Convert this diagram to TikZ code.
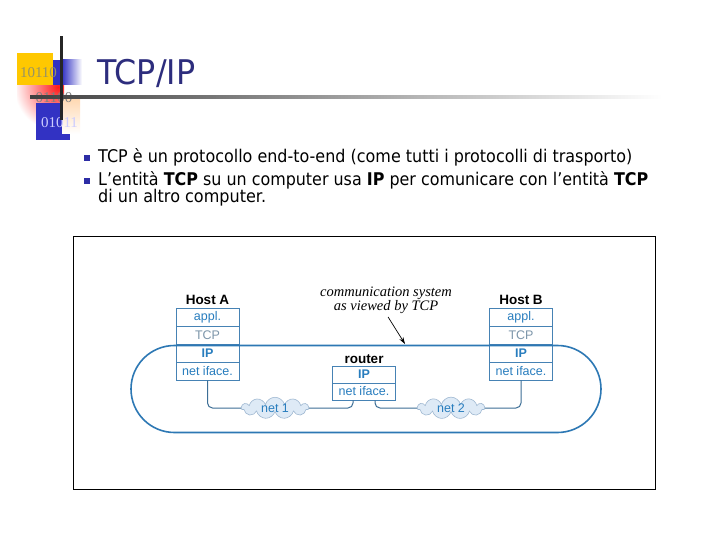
\documentclass[tikz,border=0pt]{standalone}
\usepackage{fontspec}
\setmainfont{Liberation Sans}
\newfontfamily\tahomafont{DejaVu Sans}
\newfontfamily\timesfont{Liberation Serif}
\usetikzlibrary{shapes.symbols,arrows.meta}
\definecolor{titleblue}{RGB}{45,45,125}
\definecolor{logoblue}{RGB}{50,50,195}
\definecolor{logoyellow}{RGB}{255,200,0}
\definecolor{boxcol}{RGB}{70,130,180}
\definecolor{txtblue}{RGB}{40,125,190}
\definecolor{tcpgray}{RGB}{125,150,170}
\definecolor{ovalcol}{RGB}{45,120,180}
\definecolor{legcol}{RGB}{60,110,150}
\definecolor{cloudfill}{RGB}{222,234,246}
\definecolor{cloudline}{RGB}{160,185,210}
\definecolor{bulletblue}{RGB}{45,45,165}
\begin{document}
\begin{tikzpicture}[x=1pt,y=-1pt,
  layer/.style={draw=boxcol, line width=0.8pt, fill=white, minimum width=63pt,
    minimum height=18pt, inner sep=0pt, font=\fontsize{12.5}{12.5}\selectfont, text=txtblue},
  rlayer/.style={layer, minimum height=17pt},
  boldlayer/.style={font=\bfseries\fontsize{12.5}{12.5}\selectfont},
  hostlabel/.style={font=\bfseries\fontsize{13.5}{13.5}\selectfont, inner sep=0pt},
  netcloud/.style={cloud, cloud puffs=11, aspect=3.6, draw=cloudline, fill=cloudfill,
    line width=0.6pt, minimum width=67pt, minimum height=18pt, inner sep=0pt,
    text=txtblue, font=\fontsize{12.5}{12.5}\selectfont},
  leg/.style={draw=legcol, line width=1pt, rounded corners=5pt},
  bodytext/.style={anchor=base west, inner sep=0pt, font=\tahomafont\fontsize{17.5}{17.5}\selectfont},
  bulletsq/.style={fill=bulletblue, minimum size=6pt, inner sep=0pt},
  logotext/.style={font=\timesfont\fontsize{15}{15}\selectfont, inner sep=0pt}
]
\useasboundingbox (0,0) rectangle (720,540);
\fill[white] (0,0) rectangle (720,540);

% ---- logo ----
\begin{scope}
  \clip (17,85) rectangle (64,124);
  \shade[inner color=red!90, outer color=white] (58,87) circle (44);
\end{scope}
\fill[logoblue] (36,103) rectangle (70,140);
\shade[top color=orange!30, bottom color=white] (62,99) rectangle (80,134);
\fill[logoyellow] (17,53) rectangle (53,85);
\fill[logoblue] (53,60) rectangle (62,85);
\shade[left color=logoblue, right color=white] (62,60) rectangle (82,85);
\node[logotext, text=black!45!yellow!60!gray] (b1) at (38.5,73) {10110};
\node[logotext, text=black!50] (b2) at (54,98) {01100};
\node[logotext, text=blue!20!white] (b3) at (59.5,123) {01011};
\shade[left color=black!75, right color=black!55] (30,96) rectangle (200,99);
\shade[left color=black!55, right color=white] (200,96) rectangle (662,99);
\fill[black!85] (59.5,36) rectangle (62.5,120);

% ---- title ----
\node[anchor=base west, inner sep=0pt, text=titleblue,
      font=\tahomafont\fontsize{34}{34}\selectfont] (title) at (97,85)
      {\resizebox{98pt}{\height}{TCP/IP}};

% ---- bullets ----
\node[bulletsq] (bu1) at (87,158) {};
\node[bulletsq] (bu2) at (87,181) {};
\node[bodytext] (l1) at (98,163)
  {\resizebox{534pt}{\height}{TCP è un protocollo end-to-end (come tutti i protocolli di trasporto)}};
\node[bodytext] (l2) at (98,186)
  {\resizebox{550pt}{\height}{L’entità \textbf{TCP} su un computer usa \textbf{IP} per comunicare con l’entità \textbf{TCP}}};
\node[bodytext] (l3) at (98,203)
  {\resizebox{168pt}{\height}{di un altro computer.}};

% ---- frame ----
\draw[black, line width=1pt] (73,236) rectangle (655,489);

% ---- Host A ----
\node[hostlabel] (hA) at (207.5,300) {Host A};
\node[layer] (aAppl) at (207.5,317) {appl.};
\node[layer, text=tcpgray] (aTcp) at (207.5,335) {TCP};
\node[layer, boldlayer] (aIp) at (207.5,353) {IP};
\node[layer] (aNet) at (207.5,371) {net iface.};

% ---- Host B ----
\node[hostlabel] (hB) at (521,300) {Host B};
\node[layer] (bAppl) at (521,317) {appl.};
\node[layer, text=tcpgray] (bTcp) at (521,335) {TCP};
\node[layer, boldlayer] (bIp) at (521,353) {IP};
\node[layer] (bNet) at (521,371) {net iface.};

% ---- router ----
\node[hostlabel] (rt) at (364,359) {router};
\node[rlayer, boldlayer] (rIp) at (364,374.5) {IP};
\node[rlayer] (rNet) at (364,391.5) {net iface.};

% ---- clouds ----
\node[netcloud] (net1) at (275,408) {net 1};
\node[netcloud] (net2) at (451,408) {net 2};

\coordinate (rL) at ([xshift=-11pt]rNet.south);
\coordinate (rR) at ([xshift=11pt]rNet.south);
\draw[leg] (aNet.south) |- (net1.west);
\draw[leg] (rL) |- (net1.east);
\draw[leg] (rR) |- (net2.west);
\draw[leg] (bNet.south) |- (net2.east);

% ---- communication system oval ----
\draw[ovalcol, line width=1.6pt, rounded corners=43.5pt] (131,345.5) rectangle (601,432.5);

% ---- label & arrow ----
\node[font=\timesfont\itshape\fontsize{14.5}{12}\selectfont, align=center, inner sep=0pt]
  (comm) at (386,300) {communication system\\as viewed by TCP};
\coordinate (tip) at (405,344);
\draw[-{Stealth[length=7pt,width=4.5pt]}, line width=0.7pt, shorten <=4pt] (comm.south) -- (tip);
\end{tikzpicture}
\end{document}
